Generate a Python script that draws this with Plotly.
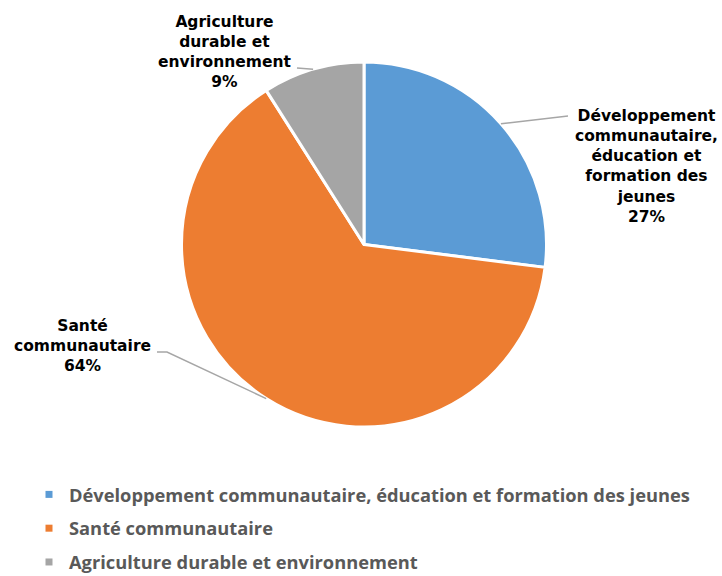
import math
import plotly.graph_objects as go

# ---- data ----
categories = [
    "Développement communautaire, éducation et formation des jeunes",
    "Santé communautaire",
    "Agriculture durable et environnement",
]
shares = [27, 64, 9]
slice_labels = [
    "Développement<br>communautaire,<br>éducation et<br>formation des<br>jeunes",
    "Santé<br>communautaire",
    "Agriculture<br>durable et<br>environnement",
]
colors = ["#5B9BD5", "#ED7D31", "#A5A5A5"]

W, H = 722, 576
# pie geometry (pixels): centre and radius
CX, CY, R = 364, 244.5, 182.5

# label placements (pixels) and leader line bends
label_pos = [(646, 166), (82, 346), (225, 52)]
leader_bends = [[(568, 116)], [(167, 352), (157, 352)], [(297, 68)]]


def px(x):
    return x / W


def py(y):
    return 1 - y / H


fig = go.Figure()
fig.add_trace(go.Pie(
    labels=categories,
    values=shares,
    sort=False,
    direction="clockwise",
    rotation=0,
    marker=dict(colors=colors, line=dict(color="white", width=3)),
    textinfo="none",
    hoverinfo="label+percent",
    showlegend=False,
    domain=dict(x=[px(CX - R), px(CX + R)], y=[py(CY + R), py(CY - R)]),
))

# legend entries via dummy traces
for i, (cat, col) in enumerate(zip(categories, colors)):
    fig.add_trace(go.Scatter(
        x=[None], y=[None], mode="markers",
        marker=dict(symbol="square", size=7, color=col),
        name=cat, legendgroup=f"g{i}", showlegend=True,
    ))

total = sum(shares)
cum = 0
shapes = []
annotations = []
for i, v in enumerate(shares):
    mid = (cum + v / 2) / total
    cum += v
    ang = 2 * math.pi * mid
    ex = CX + R * math.sin(ang)
    ey = CY - R * math.cos(ang)
    pts = [(ex, ey)] + leader_bends[i]
    path = "M " + " L ".join(f"{px(a)},{py(b)}" for a, b in pts)
    shapes.append(dict(type="path", path=path, xref="paper", yref="paper",
                       line=dict(color="#A6A6A6", width=1.5)))
    pct = round(100 * v / total)
    lx, ly = label_pos[i]
    annotations.append(dict(
        x=px(lx), y=py(ly), xref="paper", yref="paper",
        text=f"{slice_labels[i]}<br>{pct}%", showarrow=False,
        xanchor="center", yanchor="middle", align="center",
        font=dict(family="DejaVu Sans", size=15.5, color="#000000", weight="bold"),
    ))

fig.update_layout(
    width=W, height=H,
    margin=dict(l=0, r=0, t=0, b=0, autoexpand=False),
    paper_bgcolor="white", plot_bgcolor="white",
    xaxis=dict(visible=False), yaxis=dict(visible=False),
    shapes=shapes, annotations=annotations,
    showlegend=True,
    legend=dict(
        x=px(29), y=-5 / H, xanchor="left", yanchor="bottom",
        orientation="v", tracegroupgap=7,
        font=dict(family="Open Sans", size=18.3, color="#595959", weight="bold"),
        bgcolor="rgba(0,0,0,0)",
    ),
)

fig.write_html(
    "out.html",
    config={"displayModeBar": False},
    post_script="document.body.style.margin='0';document.body.style.padding='0';",
)
